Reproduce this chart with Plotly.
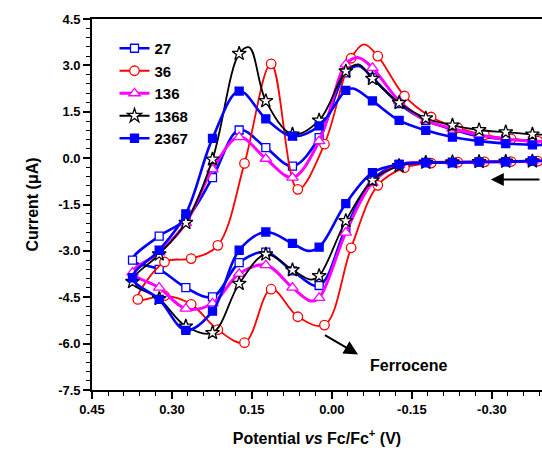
import plotly.graph_objects as go

# Potentials (V vs Fc/Fc+) at the marked data points of the sweep,
# listed from the starting potential up to the switching potential.
E_GRID = [-0.376, -0.326, -0.276, -0.226, -0.176, -0.126, -0.076, -0.026,
          0.024, 0.074, 0.124, 0.174, 0.224, 0.274, 0.324, 0.374]
E_GRID_36 = [-0.386, -0.336, -0.286, -0.236, -0.186, -0.136, -0.086, -0.036,
             0.014, 0.064, 0.114, 0.164, 0.214, 0.264, 0.314, 0.364]

# Currents (uA): forward sweep follows E_GRID upward, the return sweep
# runs back from the second-last potential down to the first one.
I27_FWD = [-0.10, -0.11, -0.12, -0.13, -0.14, -0.20, -0.70, -2.27,
           -4.12, -3.65, -3.04, -3.38, -4.49, -4.19, -3.60, -3.30]
I27_REV = [-2.52, -1.98, -0.63, 0.91, 0.34, -0.26, 0.66, 2.76,
           2.60, 1.76, 1.22, 0.93, 0.70, 0.62, 0.55]

I36_FWD = [-0.10, -0.11, -0.12, -0.13, -0.16, -0.31, -0.88, -2.90,
           -5.40, -5.13, -4.24, -5.97, -5.55, -4.73, -4.45, -4.57]
I36_REV = [-3.36, -3.25, -2.82, -0.17, 3.05, -1.01, 0.45, 3.23,
           3.30, 2.01, 1.33, 0.98, 0.75, 0.62, 0.55]

I136_FWD = [-0.10, -0.11, -0.12, -0.13, -0.14, -0.22, -0.80, -2.41,
            -4.52, -4.19, -3.46, -3.74, -4.70, -4.87, -4.19, -3.70]
I136_REV = [-3.05, -2.10, -0.36, 0.68, -0.02, -0.63, 0.55, 3.03,
            2.92, 1.85, 1.22, 0.96, 0.75, 0.62, 0.55]

I1368_FWD = [-0.10, -0.11, -0.12, -0.13, -0.14, -0.25, -0.72, -2.03,
             -3.81, -3.62, -3.11, -4.06, -5.65, -5.44, -4.55, -4.00]
I1368_REV = [-3.11, -2.09, -0.04, 3.38, 1.85, 0.77, 1.22, 2.81,
             2.57, 1.79, 1.29, 1.06, 0.91, 0.84, 0.77]

I2367_FWD = [-0.09, -0.12, -0.13, -0.15, -0.15, -0.20, -0.47, -1.47,
             -2.88, -2.76, -2.39, -2.98, -4.95, -5.57, -4.57, -3.87]
I2367_REV = [-2.98, -1.80, 0.64, 2.17, 1.27, 0.71, 1.04, 2.19,
             1.85, 1.22, 0.90, 0.68, 0.55, 0.47, 0.43]

# Unmarked points of the recorded curves (branch, potential, current)
EXTRA_27 = [("fwd", -0.41, -0.09), ("rev", -0.05, 2.98), ("rev", -0.41, 0.53)]
EXTRA_36 = [("fwd", -0.41, -0.09), ("rev", -0.06, 3.68), ("rev", -0.41, 0.53)]
EXTRA_136 = [("fwd", -0.41, -0.09), ("fwd", 0.04, -4.62),
             ("rev", -0.05, 3.25), ("rev", -0.41, 0.53)]
EXTRA_1368 = [("fwd", -0.41, -0.09), ("fwd", 0.04, -3.93),
              ("rev", 0.155, 3.58), ("rev", -0.05, 3.03), ("rev", -0.41, 0.75)]
EXTRA_2367 = [("fwd", -0.41, -0.08), ("fwd", 0.045, -3.0),
              ("rev", -0.04, 2.25), ("rev", -0.41, 0.42)]

SERIES = ["27", "36", "136", "1368", "2367"]

X_TICKS = [0.45, 0.30, 0.15, 0.00, -0.15, -0.30]
X_LABELS = ["0.45", "0.30", "0.15", "0.00", "-0.15", "-0.30"]
Y_TICKS = [4.5, 3.0, 1.5, 0.0, -1.5, -3.0, -4.5, -6.0, -7.5]
Y_LABELS = ["4.5", "3.0", "1.5", "0.0", "-1.5", "-3.0", "-4.5", "-6.0", "-7.5"]

FONT = "Liberation Sans, Arial, sans-serif"

STYLE = {
    "27":   dict(color="#0000FF", width=2.6, symbol="square", size=8, fill="white"),
    "36":   dict(color="#FF0000", width=1.8, symbol="circle", size=9.5, fill="white"),
    "136":  dict(color="#FF00FF", width=3.0, symbol="triangle-up", size=10, fill="white"),
    "1368": dict(color="#000000", width=1.8, symbol="star", size=10.5, fill="white"),
    "2367": dict(color="#0000FF", width=2.6, symbol="square", size=8, fill="#0000FF"),
}

DATA = {
    "27": (E_GRID, I27_FWD, I27_REV, EXTRA_27),
    "36": (E_GRID_36, I36_FWD, I36_REV, EXTRA_36),
    "136": (E_GRID, I136_FWD, I136_REV, EXTRA_136),
    "1368": (E_GRID, I1368_FWD, I1368_REV, EXTRA_1368),
    "2367": (E_GRID, I2367_FWD, I2367_REV, EXTRA_2367),
}


def sweep(e, fwd, rev, extra):
    """Return the closed-sweep path as (E, I, marked) tuples in scan order."""
    f = [(x, y, True) for x, y in zip(e, fwd)]
    r = [(x, y, True) for x, y in zip(e[-2::-1], rev)]
    for branch, x, y in extra:
        (f if branch == "fwd" else r).append((x, y, False))
    f.sort(key=lambda p: p[0])
    r.sort(key=lambda p: -p[0])
    return f + r


fig = go.Figure()
for name in SERIES:
    st = STYLE[name]
    path = sweep(*DATA[name])
    marker = dict(symbol=st["symbol"], size=st["size"], color=st["fill"],
                  line=dict(color=st["color"], width=1.3))
    # smooth curve through every point
    fig.add_trace(go.Scatter(
        x=[p[0] for p in path], y=[p[1] for p in path], mode="lines",
        line=dict(color=st["color"], width=st["width"], shape="spline", smoothing=1.0),
        showlegend=False, hoverinfo="skip"))
    # symbols on the marked points
    fig.add_trace(go.Scatter(
        x=[p[0] for p in path if p[2]], y=[p[1] for p in path if p[2]],
        mode="markers", marker=marker, showlegend=False, name=name))
    # legend entry (line + symbol)
    fig.add_trace(go.Scatter(
        x=[None], y=[None], mode="lines+markers", name=name,
        line=dict(color=st["color"], width=st["width"]), marker=marker))

axis_common = dict(
    showline=True, linecolor="black", linewidth=1.6, showgrid=False, zeroline=False,
    ticks="outside", ticklen=7, tickwidth=1.5, tickcolor="black",
    tickfont=dict(family=FONT, size=13, color="black", weight="bold"),
)

fig.update_layout(
    width=542, height=451,
    margin=dict(l=92, r=0, t=19, b=61),
    paper_bgcolor="white", plot_bgcolor="white",
    font=dict(family=FONT, color="black"),
    xaxis=dict(
        range=[0.45, -0.394], tickmode="array", tickvals=X_TICKS, ticktext=X_LABELS,
        mirror=True,
        minor=dict(dtick=0.03, tick0=0.0, ticks="outside", ticklen=4, tickwidth=1.3,
                   tickcolor="black"),
        title=dict(text="Potential <i>vs</i> Fc/Fc<sup>+</sup> (V)",
                   font=dict(family=FONT, size=16, weight="bold"), standoff=16),
        **axis_common),
    yaxis=dict(
        range=[-7.5, 4.5], tickmode="array", tickvals=Y_TICKS, ticktext=Y_LABELS,
        minor=dict(dtick=0.3, tick0=0.0, ticks="outside", ticklen=4, tickwidth=1.3,
                   tickcolor="black"),
        title=dict(text="Current (μA)", font=dict(family=FONT, size=16, weight="bold"),
                   standoff=16),
        **axis_common),
    legend=dict(x=0.05, y=0.965, xanchor="left", yanchor="top",
                bgcolor="rgba(0,0,0,0)", borderwidth=0, tracegroupgap=0,
                font=dict(family=FONT, size=15, color="black", weight="bold")),
    showlegend=True,
)

# sweep direction arrow
fig.add_annotation(x=-0.298, y=-0.69, ax=-0.392, ay=-0.69, xref="x", yref="y",
                   axref="x", ayref="y", text="", showarrow=True,
                   arrowhead=2, arrowsize=1.3, arrowwidth=2, arrowcolor="black")
# ferrocene label and pointer
fig.add_annotation(x=-0.049, y=-6.35, ax=0.016, ay=-5.70, xref="x", yref="y",
                   axref="x", ayref="y", text="", showarrow=True,
                   arrowhead=2, arrowsize=1.4, arrowwidth=2, arrowcolor="black")
fig.add_annotation(x=-0.143, y=-6.70, xref="x", yref="y", text="Ferrocene",
                   showarrow=False,
                   font=dict(family=FONT, size=16, color="black", weight="bold"))

fig.write_html("out.html")
